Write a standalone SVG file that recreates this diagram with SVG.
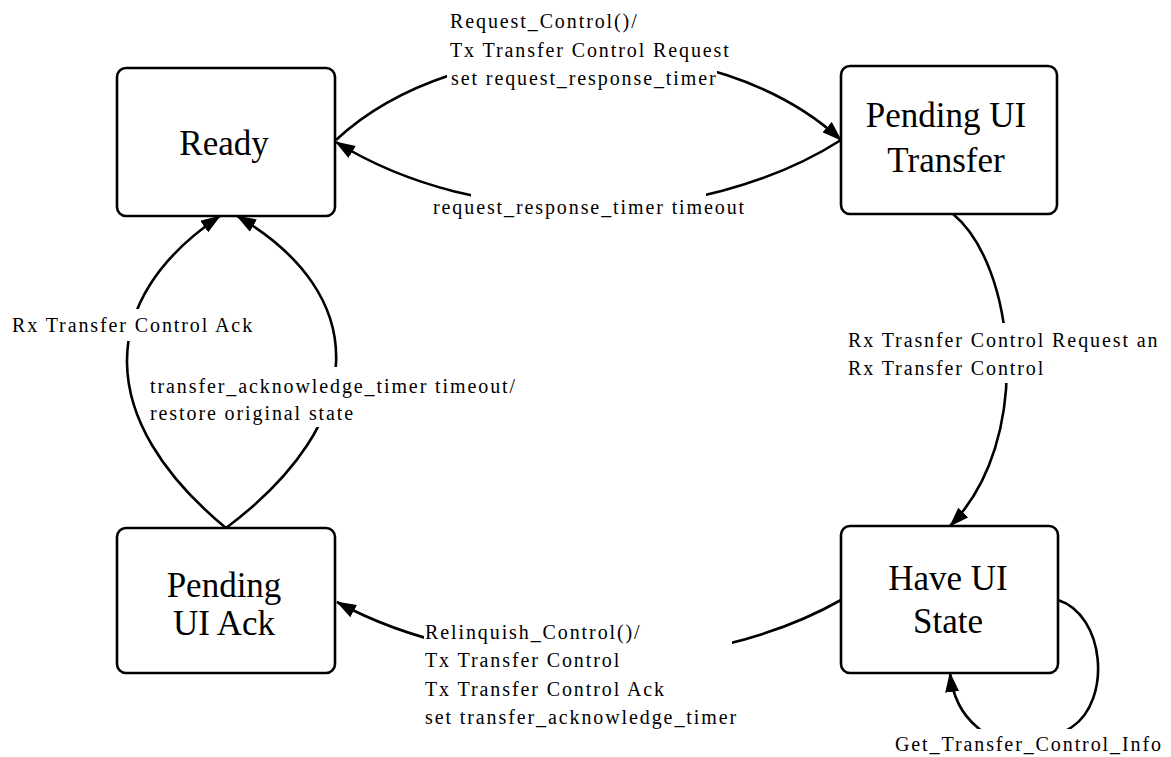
<svg xmlns="http://www.w3.org/2000/svg" width="1171" height="757" viewBox="0 0 1171 757">
  <defs>
    <style>
      .state rect { fill: #fff; stroke: #000; stroke-width: 2.6; }
      .state text { font-family: "Liberation Serif", "Times New Roman", serif; font-size: 35px; fill: #000; text-anchor: middle; }
      .conn { fill: none; stroke: #000; stroke-width: 2.6; }
      .lbl-bg { fill: #fff; stroke: none; }
      .lbl { font-family: "Liberation Serif", "Times New Roman", serif; font-size: 20px; letter-spacing: 1.9px; fill: #000; }
    </style>
    <marker id="arrow" markerUnits="userSpaceOnUse" markerWidth="20" markerHeight="14" viewBox="0 0 20 14" refX="19" refY="7" orient="auto">
      <path d="M0,0 L20,7 L0,14 z" fill="#000"/>
    </marker>
  </defs>

  <rect width="1171" height="757" fill="#fff"/>

  <!-- states -->
  <g id="ready" class="state">
    <rect x="117" y="68" width="218" height="148" rx="9"/>
    <text x="224" y="155">Ready</text>
  </g>
  <g id="pending-ui-transfer" class="state">
    <rect x="841" y="66" width="216" height="148" rx="9"/>
    <text x="946" y="127">Pending UI</text>
    <text x="946" y="172">Transfer</text>
  </g>
  <g id="pending-ui-ack" class="state">
    <rect x="117" y="528" width="218" height="145" rx="9"/>
    <text x="224" y="597">Pending</text>
    <text x="224" y="635">UI Ack</text>
  </g>
  <g id="have-ui-state" class="state">
    <rect x="841" y="526" width="217" height="147" rx="9"/>
    <text x="948" y="590">Have UI</text>
    <text x="948" y="633">State</text>
  </g>

  <!-- transitions -->
  <g id="connectors">
    <path id="t-request" class="conn" d="M336,140 C460,25 717,25 841,140" marker-end="url(#arrow)"/>
    <path id="t-timeout" class="conn" d="M841,140 C700,230 477,230 336,142" marker-end="url(#arrow)"/>
    <path id="t-rx-request" class="conn" d="M953,214 C1015,265 1035,440 950,526" marker-end="url(#arrow)"/>
    <path id="t-relinquish" class="conn" d="M841,600 C700,680 480,680 337,602" marker-end="url(#arrow)"/>
    <path id="t-rx-ack" class="conn" d="M226,528 C95,420 95,300 220,216" marker-end="url(#arrow)"/>
    <path id="t-ack-timeout" class="conn" d="M226,528 C370,420 372,295 237,216" marker-end="url(#arrow)"/>
    <path id="t-get-info" class="conn" d="M1058,600 C1105,615 1112,700 1072,727 C1040,748 995,745 977,727 C965,717 953,700 950,673" marker-end="url(#arrow)"/>
  </g>

  <!-- transition labels; the white backing breaks the curve under the text -->
  <g id="labels">
    <g id="lbl-request">
      <rect class="lbl-bg" x="447" y="10" width="270" height="82"/>
      <text class="lbl" x="450" y="28">Request_Control()/</text>
      <text class="lbl" x="450" y="57">Tx Transfer Control Request</text>
      <text class="lbl" x="451" y="85">set request_response_timer</text>
    </g>
    <g id="lbl-timeout">
      <rect class="lbl-bg" x="471" y="185" width="235" height="37"/>
      <text class="lbl" x="433" y="214">request_response_timer timeout</text>
    </g>
    <g id="lbl-rx-request">
      <rect class="lbl-bg" x="846" y="323" width="312" height="60"/>
      <text class="lbl" x="848" y="347">Rx Trasnfer Control Request an</text>
      <text class="lbl" x="848" y="375">Rx Transfer Control</text>
    </g>
    <g id="lbl-relinquish">
      <rect class="lbl-bg" x="424" y="615" width="308" height="120"/>
      <text class="lbl" x="425" y="639">Relinquish_Control()/</text>
      <text class="lbl" x="425" y="667">Tx Transfer Control</text>
      <text class="lbl" x="425" y="696">Tx Transfer Control Ack</text>
      <text class="lbl" x="425" y="724">set transfer_acknowledge_timer</text>
    </g>
    <g id="lbl-rx-ack">
      <rect class="lbl-bg" x="10" y="309" width="249" height="32"/>
      <text class="lbl" x="12" y="332">Rx Transfer Control Ack</text>
    </g>
    <g id="lbl-ack-timeout">
      <rect class="lbl-bg" x="148" y="367" width="370" height="60"/>
      <text class="lbl" x="150" y="393">transfer_acknowledge_timer timeout/</text>
      <text class="lbl" x="150" y="420">restore original state</text>
    </g>
    <g id="lbl-get-info">
      <rect class="lbl-bg" x="890" y="729" width="276" height="28"/>
      <text class="lbl" x="895" y="751">Get_Transfer_Control_Info</text>
    </g>
  </g>
</svg>
